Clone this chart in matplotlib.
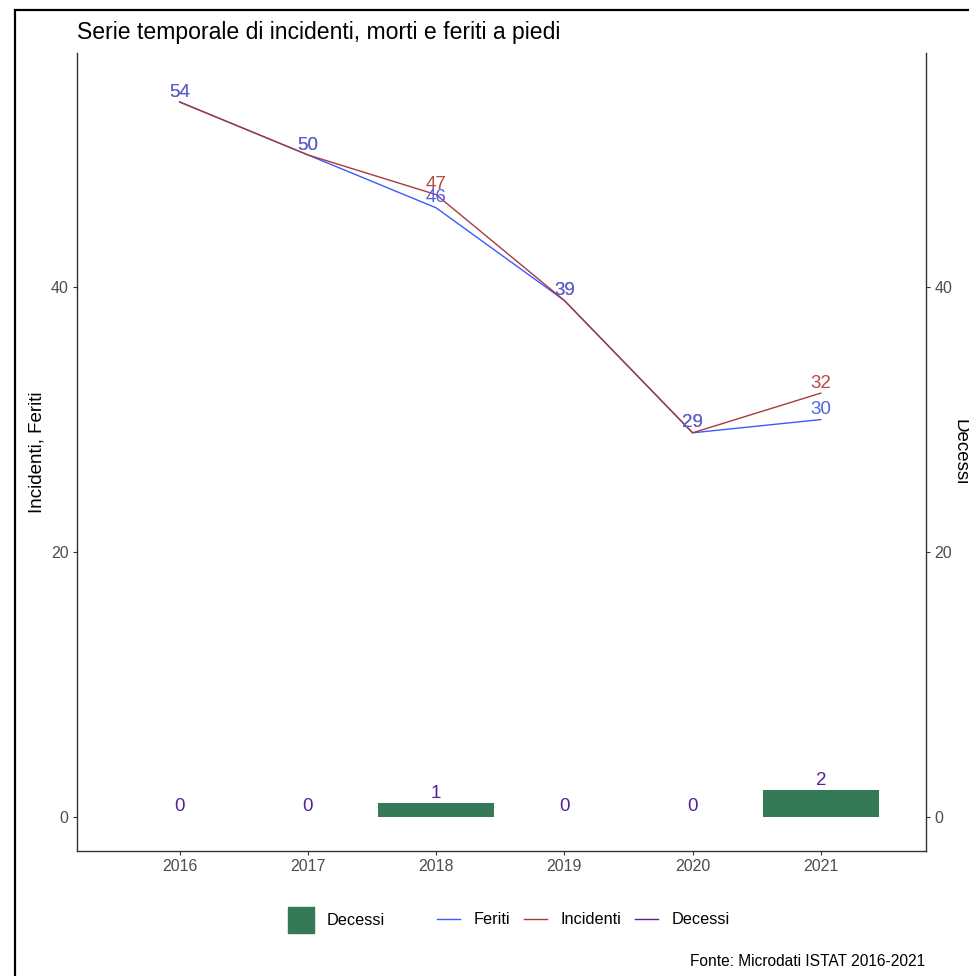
import matplotlib.pyplot as plt
from matplotlib.patches import Patch, Rectangle
from matplotlib.lines import Line2D

plt.rcParams['font.family'] = ['Liberation Sans', 'DejaVu Sans']

# dati
anni = [2016, 2017, 2018, 2019, 2020, 2021]
feriti = [54, 50, 46, 39, 29, 30]
incidenti = [54, 50, 47, 39, 29, 32]
decessi = [0, 0, 1, 0, 0, 2]

col_bar = '#357a56'
col_fer = '#3d5afe'
col_inc = '#a83a3a'
col_dec = '#5a1f9a'
lab_fer = '#4f63e6'
lab_inc = '#b8474a'

W, H = 969, 976
fig = plt.figure(figsize=(W / 100, H / 100), dpi=100)

# cornice esterna
fig.patches.append(Rectangle((15 / W, -0.05), 1.2, (H - 10) / H + 0.05,
                             transform=fig.transFigure, fill=False,
                             edgecolor='black', linewidth=1.6))

ax = fig.add_axes([77 / W, (H - 851) / H, (926 - 77) / W, (851 - 53) / H])

ax.bar(anni, decessi, width=0.9, color=col_bar, zorder=1)
ax.plot(anni, feriti, color=col_fer, lw=1, zorder=2)
ax.plot(anni, incidenti, color=col_inc, lw=1, zorder=2)

for x, y in zip(anni, incidenti):
    ax.annotate(str(y), (x, y), xytext=(0, 1), textcoords='offset points',
                ha='center', va='bottom', color=lab_inc, fontsize=13.5, zorder=3)
for x, y in zip(anni, feriti):
    ax.annotate(str(y), (x, y), xytext=(0, 1), textcoords='offset points',
                ha='center', va='bottom', color=lab_fer, fontsize=13.5, zorder=4)
for x, y in zip(anni, decessi):
    ax.annotate(str(y), (x, y), xytext=(0, 1), textcoords='offset points',
                ha='center', va='bottom', color=col_dec, fontsize=13.5, zorder=4)

ax.set_xlim(2015.2, 2021.82)
ax.set_ylim(-2.6, 57.7)
ax.set_xticks(anni)
ax.set_yticks([0, 20, 40])

ax2 = ax.twinx()
ax2.set_ylim(ax.get_ylim())
ax2.set_yticks([0, 20, 40])

for a in (ax, ax2):
    for s in a.spines.values():
        s.set_visible(False)
    a.tick_params(length=3, width=0.8, color='#333333', labelcolor='#4d4d4d',
                  labelsize=11.5, pad=3)
ax.spines['left'].set_visible(True)
ax.spines['bottom'].set_visible(True)
ax2.spines['right'].set_visible(True)
for s in (ax.spines['left'], ax.spines['bottom'], ax2.spines['right']):
    s.set_color('#333333')
    s.set_linewidth(1)

fig.text(37 / W, 1 - 452 / H, 'Incidenti, Feriti', rotation=90, ha='center',
         va='center', fontsize=13.5)
fig.text(960 / W, 1 - 452 / H, 'Decessi', rotation=270, ha='center',
         va='center', fontsize=13.5)

fig.text(77 / W, 1 - 32 / H, 'Serie temporale di incidenti, morti e feriti a piedi',
         ha='left', va='center', fontsize=16.6)

fig.text(925 / W, 1 - 961 / H, 'Fonte: Microdati ISTAT 2016-2021',
         ha='right', va='center', fontsize=11.2)

# legende
leg1 = fig.legend(handles=[Patch(color=col_bar, label='Decessi')],
                  loc='center left', bbox_to_anchor=(273 / W, 1 - 920 / H),
                  frameon=False, fontsize=11.7, handlelength=1.65, handleheight=2.1,
                  handletextpad=0.75)
leg2 = fig.legend(handles=[Line2D([], [], color=col_fer, lw=1, label='Feriti'),
                           Line2D([], [], color=col_inc, lw=1, label='Incidenti'),
                           Line2D([], [], color=col_dec, lw=1, label='Decessi')],
                  loc='center left', bbox_to_anchor=(422 / W, 1 - 920 / H), ncol=3,
                  frameon=False, fontsize=11.7, handlelength=1.45,
                  handletextpad=0.8, columnspacing=0.85)

fig.savefig('out.png', dpi=100)
